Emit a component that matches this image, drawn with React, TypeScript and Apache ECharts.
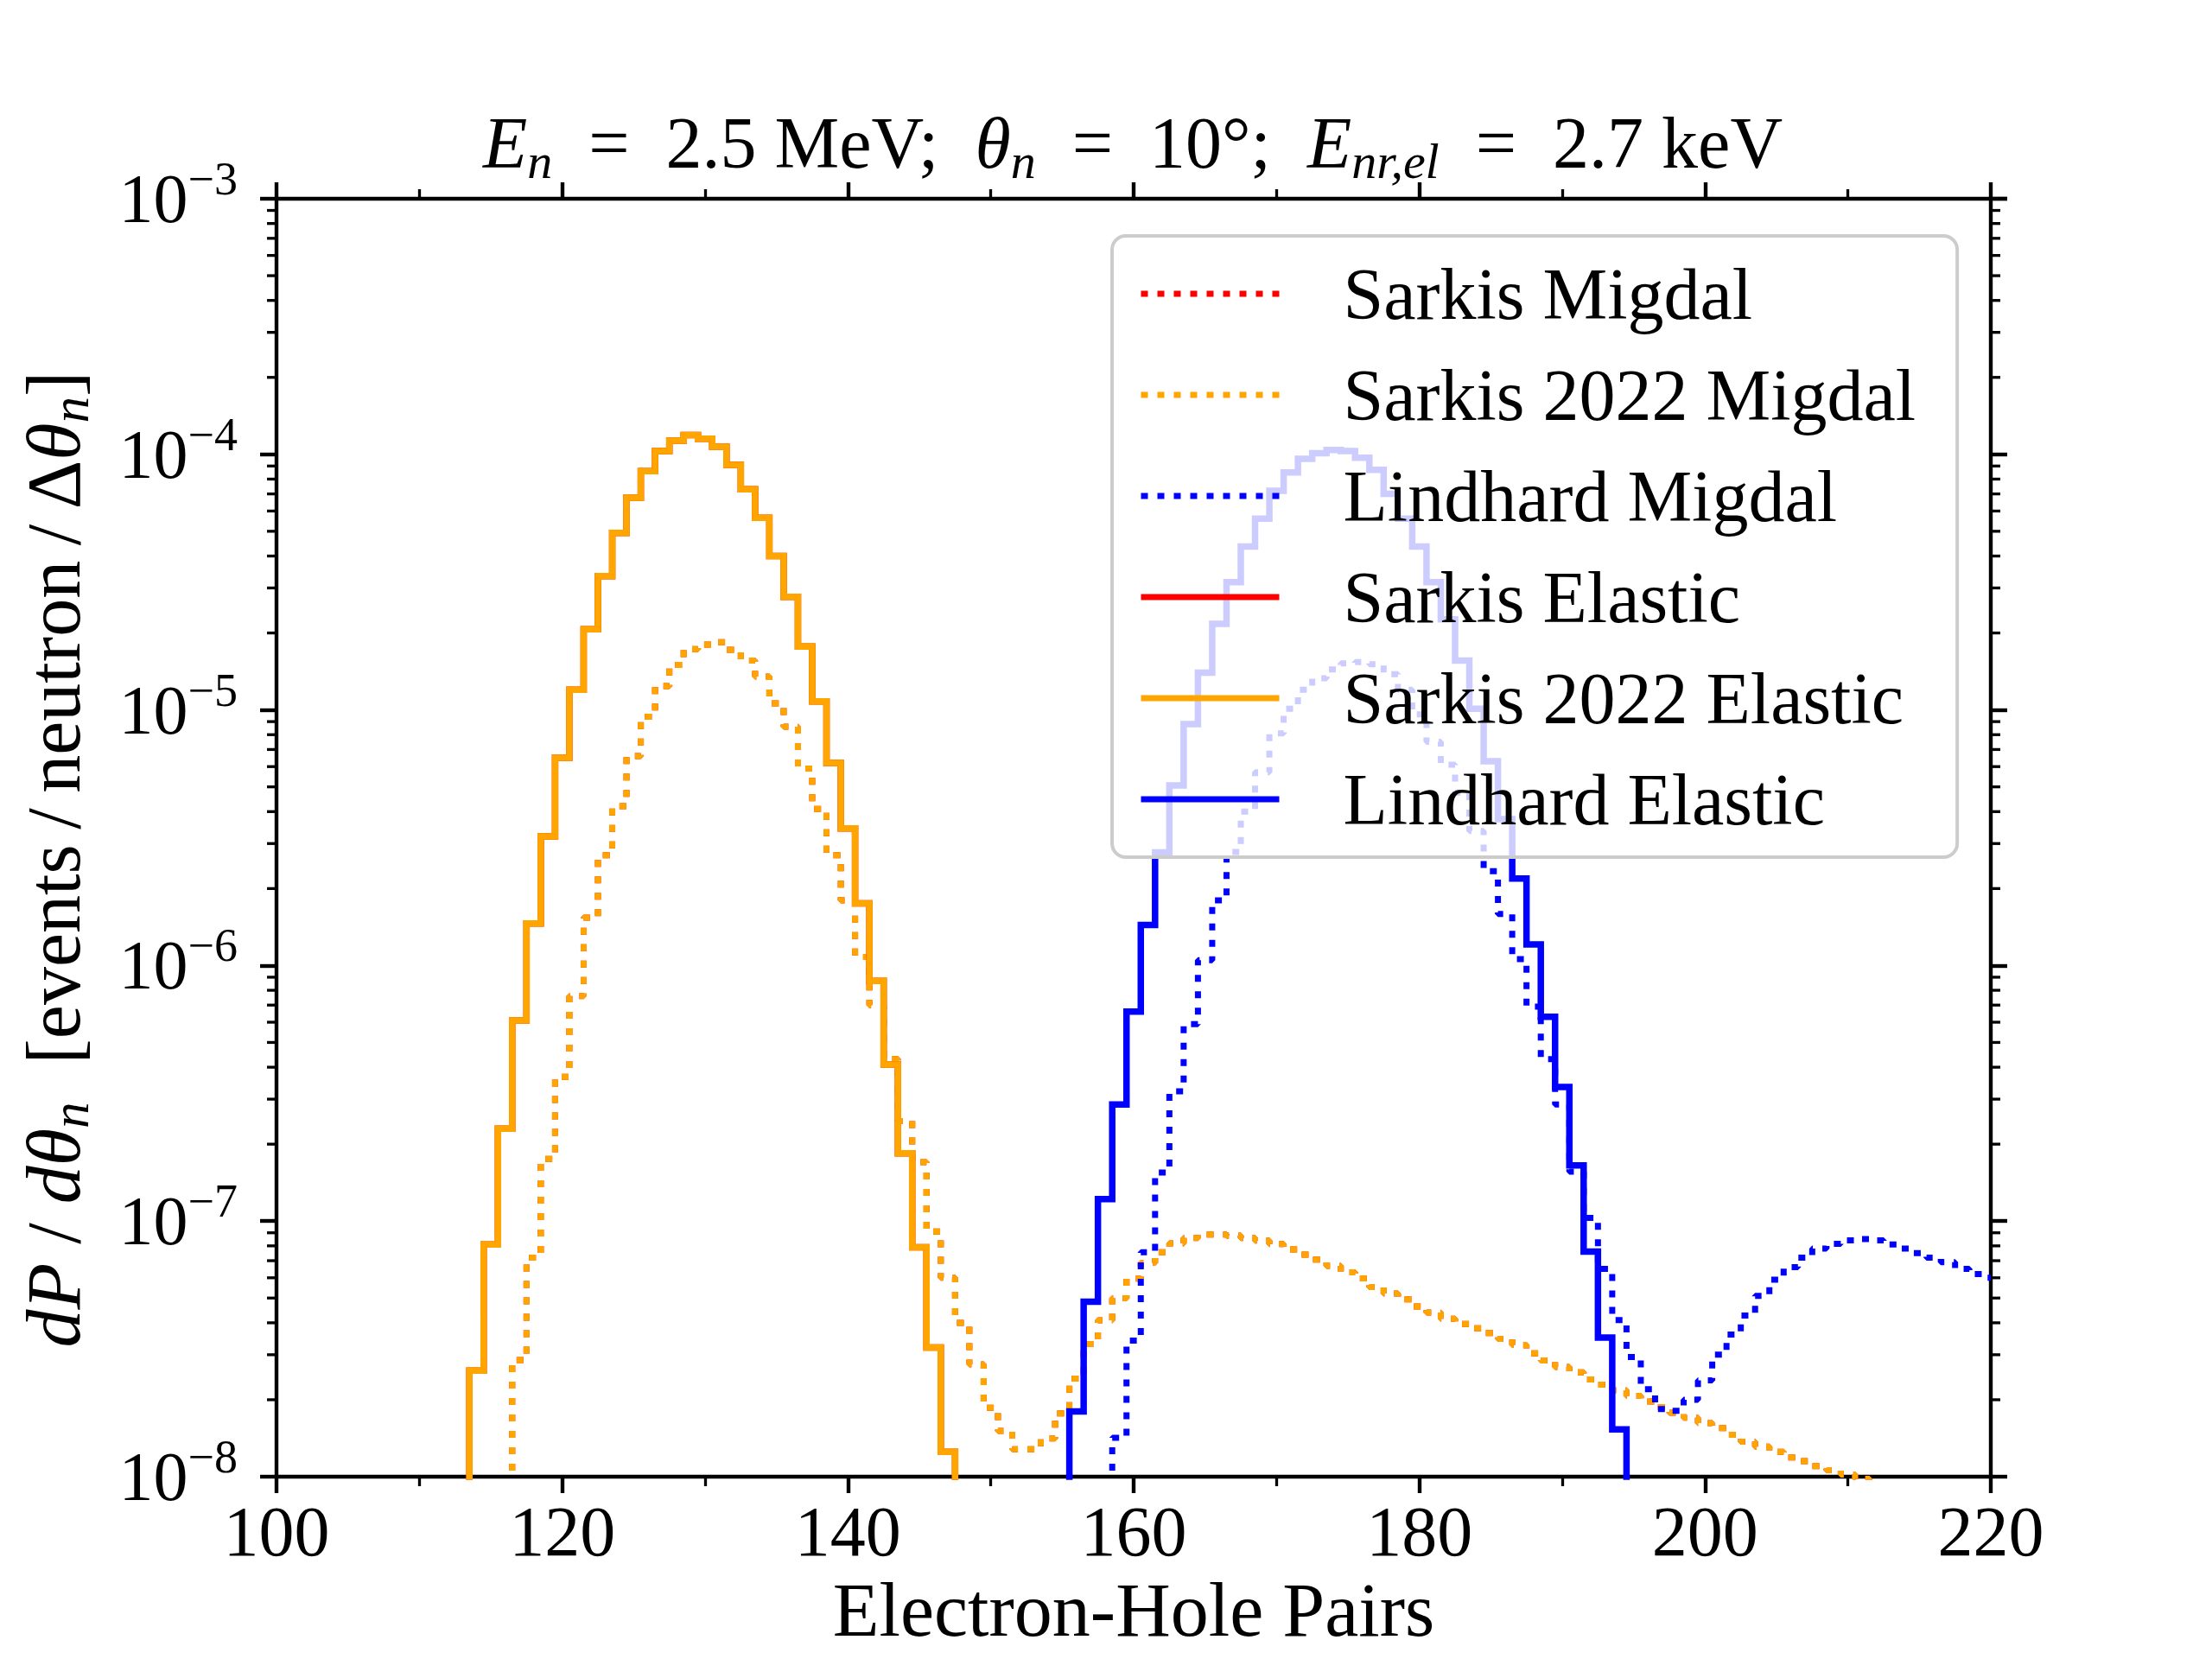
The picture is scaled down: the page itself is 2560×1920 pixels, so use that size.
import React, { useEffect, useRef } from "react";
import * as echarts from "echarts";

// ---- axes ----
const X_MIN = 100;
const X_MAX = 220;
const X_STEP = 20;
const Y_MIN = 1e-8;
const Y_MAX = 1e-3;

// ---- data: one value per electron-hole-pair bin (bins centred on integers) ----
const SARKIS2022_ELASTIC_START = 113;
const sarkis2022Elastic = [
  4e-9, 2.6e-8, 8.1e-8, 2.3e-7, 6.1e-7, 1.46e-6, 3.2e-6, 6.5e-6, 1.2e-5, 2.07e-5,
  3.34e-5, 4.93e-5, 6.76e-5, 8.6e-5, 1.03e-4, 1.13e-4, 1.19e-4, 1.15e-4, 1.07e-4, 9.1e-5,
  7.3e-5, 5.65e-5, 4.0e-5, 2.77e-5, 1.77e-5, 1.08e-5, 6.2e-6, 3.44e-6, 1.75e-6, 8.7e-7,
  4.1e-7, 1.84e-7, 7.9e-8, 3.2e-8, 1.25e-8, 4e-9,
];

const SARKIS2022_MIGDAL_START = 116;
const sarkis2022Migdal = [
  4e-9, 2.86e-8, 7.2e-8, 1.75e-7, 3.67e-7, 7.6e-7, 1.54e-6, 2.7e-6, 4.2e-6, 6.6e-6,
  9.4e-6, 1.24e-5, 1.5e-5, 1.73e-5, 1.8e-5, 1.84e-5, 1.72e-5, 1.56e-5, 1.35e-5, 1.06e-5,
  8.6e-6, 5.9e-6, 4.1e-6, 2.7e-6, 1.8e-6, 1.08e-6, 7.0e-7, 4.3e-7, 2.46e-7, 1.7e-7,
  9.1e-8, 6.0e-8, 4.0e-8, 2.75e-8, 1.86e-8, 1.51e-8, 1.28e-8, 1.28e-8, 1.41e-8, 1.77e-8,
  2.42e-8, 3.3e-8, 4.09e-8, 4.99e-8, 5.96e-8, 6.87e-8, 7.56e-8, 8.18e-8, 8.59e-8, 8.86e-8,
  8.86e-8, 8.77e-8, 8.59e-8, 8.39e-8, 8.13e-8, 7.74e-8, 7.4e-8, 7.07e-8, 6.68e-8, 6.3e-8,
  5.97e-8, 5.52e-8, 5.21e-8, 4.94e-8, 4.63e-8, 4.39e-8, 4.15e-8, 3.96e-8, 3.81e-8, 3.65e-8,
  3.46e-8, 3.28e-8, 3.04e-8, 2.85e-8, 2.69e-8, 2.56e-8, 2.4e-8, 2.29e-8, 2.18e-8, 2.07e-8,
  1.97e-8, 1.87e-8, 1.78e-8, 1.7e-8, 1.62e-8, 1.55e-8, 1.46e-8, 1.37e-8, 1.31e-8, 1.25e-8,
  1.19e-8, 1.15e-8, 1.1e-8, 1.06e-8, 1.02e-8, 9.8e-9, 9.4e-9,
];

const LINDHARD_ELASTIC_START = 155;
const lindhardElastic = [
  4e-9, 1.8e-8, 4.84e-8, 1.22e-7, 2.86e-7, 6.6e-7, 1.44e-6, 2.77e-6, 5.06e-6, 8.8e-6,
  1.4e-5, 2.17e-5, 3.16e-5, 4.36e-5, 5.6e-5, 7.2e-5, 8.5e-5, 9.6e-5, 1.01e-4, 1.04e-4,
  1.03e-4, 9.7e-5, 8.7e-5, 7.0e-5, 5.6e-5, 4.36e-5, 3.16e-5, 2.26e-5, 1.56e-5, 1.01e-5,
  6.3e-6, 3.74e-6, 2.19e-6, 1.21e-6, 6.3e-7, 3.35e-7, 1.65e-7, 7.6e-8, 3.5e-8, 1.53e-8,
  4e-9,
];

const LINDHARD_MIGDAL_START = 158;
const lindhardMigdal = [
  4e-9, 1.42e-8, 3.41e-8, 7.56e-8, 1.55e-7, 3.22e-7, 5.9e-7, 1.05e-6, 1.8e-6, 2.78e-6,
  4.0e-6, 5.7e-6, 8.1e-6, 1.01e-5, 1.2e-5, 1.33e-5, 1.44e-5, 1.52e-5, 1.54e-5, 1.51e-5,
  1.38e-5, 1.2e-5, 9.6e-6, 7.5e-6, 6.1e-6, 4.75e-6, 3.36e-6, 2.34e-6, 1.59e-6, 1.06e-6,
  6.9e-7, 4.3e-7, 2.86e-7, 1.56e-7, 1.03e-7, 6.5e-8, 4.1e-8, 2.94e-8, 2.2e-8, 1.84e-8,
  1.81e-8, 2.0e-8, 2.38e-8, 3.0e-8, 3.6e-8, 4.27e-8, 5.1e-8, 5.9e-8, 6.6e-8, 7.2e-8,
  7.8e-8, 8.15e-8, 8.4e-8, 8.5e-8, 8.4e-8, 8.1e-8, 7.8e-8, 7.5e-8, 7.2e-8, 6.9e-8,
  6.5e-8, 6.2e-8, 6.0e-8,
];

// The "Sarkis" curves coincide with the "Sarkis 2022" curves and lie beneath them.
const sarkisElastic = sarkis2022Elastic;
const SARKIS_ELASTIC_START = SARKIS2022_ELASTIC_START;
const sarkisMigdal = sarkis2022Migdal;
const SARKIS_MIGDAL_START = SARKIS2022_MIGDAL_START;

const legendNames = [
  "Sarkis Migdal",
  "Sarkis 2022 Migdal",
  "Lindhard Migdal",
  "Sarkis Elastic",
  "Sarkis 2022 Elastic",
  "Lindhard Elastic",
];

const RED = "#ff0000";
const ORANGE = "#ffa500";
const BLUE = "#0000ff";

const FONT = "'Liberation Serif', 'DejaVu Serif', serif";

const toPairs = (start: number, vals: number[]) => vals.map((v, i) => [start + i, v]);

// minor log ticks 2..9 x 10^k
const minorTickVals: number[] = [];
for (let e = -8; e < -3; e++) {
  for (let m = 2; m <= 9; m++) minorTickVals.push(m * Math.pow(10, e));
}

function stepSeries(name: string, data: number[][], color: string, dotted: boolean) {
  return {
    name,
    type: "line",
    step: "middle",
    data,
    symbol: "none",
    showSymbol: false,
    clip: true,
    z: 2,
    lineStyle: dotted
      ? { color, width: 7, type: [8, 11], cap: "butt" }
      : { color, width: 7.5, type: "solid", cap: "butt", join: "miter" },
    itemStyle: { color },
    emphasis: { disabled: true },
  };
}

const App: React.FC = () => {
  const ref = useRef<HTMLDivElement>(null);

  useEffect(() => {
    document.body.style.margin = "0";
    if (!ref.current) return;
    const chart = echarts.init(ref.current, undefined, { renderer: "svg" });

    const axisLineStyle = { color: "#000", width: 4.4 };
    const tickStyle = { show: true, length: 19, lineStyle: { color: "#000", width: 4.4 } };
    const minorX = { show: true, splitNumber: 2, length: 11, lineStyle: { color: "#000", width: 3.3 } };

    const yLabelRich = {
      b: { fontSize: 80, fontFamily: FONT, color: "#000", lineHeight: 100 },
      s: { fontSize: 54, fontFamily: FONT, color: "#000", lineHeight: 66, verticalAlign: "top" },
    };

    const mathRich = (size: number) => ({
      i: { fontFamily: FONT, fontSize: size, fontStyle: "italic", color: "#000", lineHeight: 100 },
      sub: {
        fontFamily: FONT,
        fontSize: Math.round(size * 0.69),
        fontStyle: "italic",
        color: "#000",
        lineHeight: 44,
        verticalAlign: "bottom",
      },
    });

    const option: any = {
      animation: false,
      backgroundColor: "#ffffff",
      title: {
        text: "{i|E}{sub|n}  =  2.5 MeV;  {i|θ}{sub|n}  =  10°;  {i|E}{sub|nr,el}  =  2.7 keV",
        left: 1306,
        top: 110,
        textAlign: "center",
        textStyle: {
          fontFamily: FONT,
          fontSize: 84,
          fontWeight: "normal",
          color: "#000",
          lineHeight: 100,
          rich: mathRich(84),
        },
      },
      grid: { left: 320, right: 256, top: 230, bottom: 211, containLabel: false },
      legend: {
        data: legendNames,
        orient: "vertical",
        left: 1287,
        top: 273,
        itemWidth: 160,
        itemHeight: 2,
        itemGap: 33,
        padding: [25, 48, 25, 30],
        backgroundColor: "rgba(255,255,255,0.8)",
        borderColor: "#cccccc",
        borderWidth: 4,
        borderRadius: 16,
        selectedMode: false,
        lineStyle: { width: 7 },
        textStyle: {
          fontFamily: FONT,
          fontSize: 84,
          color: "#000",
          lineHeight: 84,
          padding: [0, 0, 0, 69],
        },
      },
      xAxis: [
        {
          type: "value",
          position: "bottom",
          min: X_MIN,
          max: X_MAX,
          interval: X_STEP,
          name: "Electron-Hole Pairs",
          nameLocation: "middle",
          nameGap: 110,
          nameTextStyle: { fontFamily: FONT, fontSize: 88, color: "#000" },
          axisLine: { show: true, onZero: false, lineStyle: axisLineStyle },
          axisTick: tickStyle,
          minorTick: minorX,
          axisLabel: { show: true, margin: 22, fontFamily: FONT, fontSize: 82, color: "#000" },
          splitLine: { show: false },
        },
        {
          type: "value",
          position: "top",
          min: X_MIN,
          max: X_MAX,
          interval: X_STEP,
          axisLine: { show: true, onZero: false, lineStyle: axisLineStyle },
          axisTick: tickStyle,
          minorTick: minorX,
          axisLabel: { show: false },
          splitLine: { show: false },
        },
      ],
      yAxis: [
        {
          type: "log",
          logBase: 10,
          position: "left",
          min: Y_MIN,
          max: Y_MAX,
          name: "{i|dP} / {i|dθ}{sub|n}  [events\u2009/\u2009neutron\u2009/\u2009Δ{i|θ}{sub|n}]",
          nameLocation: "middle",
          nameRotate: 90,
          nameGap: 208,
          nameTextStyle: {
            fontFamily: FONT,
            fontSize: 88,
            color: "#000",
            lineHeight: 100,
            padding: [0, 50, 0, 0],
            rich: mathRich(88),
          },
          axisLine: { show: true, onZero: false, lineStyle: axisLineStyle },
          axisTick: tickStyle,
          axisLabel: {
            show: true,
            margin: 45,
            formatter: (v: number) => {
              const e = Math.round(Math.log10(v));
              return `{b|10}{s|−${-e}}`;
            },
            rich: yLabelRich,
          },
          splitLine: { show: false },
        },
        {
          type: "log",
          logBase: 10,
          position: "right",
          min: Y_MIN,
          max: Y_MAX,
          axisLine: { show: true, onZero: false, lineStyle: axisLineStyle },
          axisTick: tickStyle,
          axisLabel: { show: false },
          splitLine: { show: false },
        },
      ],
      series: [
        stepSeries("Sarkis Migdal", toPairs(SARKIS_MIGDAL_START, sarkisMigdal), RED, true),
        stepSeries("Sarkis 2022 Migdal", toPairs(SARKIS2022_MIGDAL_START, sarkis2022Migdal), ORANGE, true),
        stepSeries("Lindhard Migdal", toPairs(LINDHARD_MIGDAL_START, lindhardMigdal), BLUE, true),
        stepSeries("Sarkis Elastic", toPairs(SARKIS_ELASTIC_START, sarkisElastic), RED, false),
        stepSeries("Sarkis 2022 Elastic", toPairs(SARKIS2022_ELASTIC_START, sarkis2022Elastic), ORANGE, false),
        stepSeries("Lindhard Elastic", toPairs(LINDHARD_ELASTIC_START, lindhardElastic), BLUE, false),
        {
          type: "custom",
          silent: true,
          z: 5,
          clip: false,
          data: minorTickVals.map((v) => [X_MIN, v]),
          renderItem: (_params: any, api: any) => {
            const v = api.value(1);
            const l = api.coord([X_MIN, v]);
            const r = api.coord([X_MAX, v]);
            const st = { stroke: "#000", lineWidth: 3.3 };
            return {
              type: "group",
              children: [
                { type: "line", shape: { x1: l[0] - 11, y1: l[1], x2: l[0], y2: l[1] }, style: st },
                { type: "line", shape: { x1: r[0], y1: r[1], x2: r[0] + 11, y2: r[1] }, style: st },
              ],
            };
          },
        },
      ],
    };

    chart.setOption(option);
    return () => chart.dispose();
  }, []);

  return <div ref={ref} style={{ width: 2560, height: 1920, background: "#fff" }} />;
};

export default App;
